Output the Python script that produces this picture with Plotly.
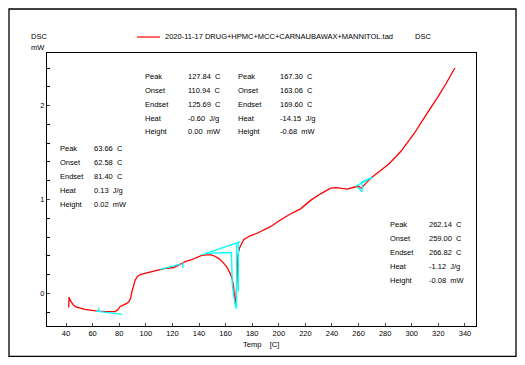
import plotly.graph_objects as go

# ---- measured DSC curve (Temp in C, DSC in mW) ----
temp = [42.0, 42.3, 43.0, 43.8, 45.5, 47.5, 50.5, 54.0, 58.0, 61.0, 64.3, 68.0, 72.0, 77.0,
        79.0, 80.7, 83.0, 85.7, 87.5, 88.6, 89.6, 90.7, 92.0, 93.7, 96.0, 100.0, 105.0,
        110.0, 114.0, 118.0, 121.0, 124.0, 127.0, 130.0, 134.0, 138.0, 142.0, 146.0,
        149.0, 152.0, 155.0, 158.0, 161.0, 163.5, 165.0, 166.0, 166.7, 167.3, 167.8,
        168.3, 168.8, 169.3, 170.0, 171.0, 173.6, 178.0, 183.7, 190.0, 193.7, 200.0,
        208.0, 216.4, 223.9, 231.4, 235.0, 239.0, 243.0, 246.5, 251.5, 256.5, 260.0,
        262.1, 263.2, 266.6, 270.3, 276.6, 283.0, 291.7, 301.7, 309.3, 315.0, 320.0,
        325.6, 332.4]
dsc = [-0.15, -0.04, -0.07, -0.09, -0.125, -0.145, -0.16, -0.17, -0.178, -0.185, -0.19,
       -0.193, -0.195, -0.195, -0.175, -0.14, -0.125, -0.107, -0.085, -0.05, 0.02, 0.07,
       0.14, 0.18, 0.20, 0.215, 0.235, 0.25, 0.262, 0.268, 0.275, 0.295, 0.32, 0.34, 0.355,
       0.38, 0.405, 0.41, 0.41, 0.395, 0.37, 0.33, 0.28, 0.21, 0.15, 0.07, -0.02, -0.117,
       -0.08, 0.10, 0.28, 0.40, 0.46, 0.50, 0.57, 0.61, 0.64, 0.68, 0.71, 0.77, 0.84, 0.90,
       0.99, 1.06, 1.09, 1.12, 1.125, 1.12, 1.11, 1.13, 1.14, 1.12, 1.14, 1.19, 1.24, 1.31,
       1.38, 1.51, 1.70, 1.87, 1.99, 2.10, 2.23, 2.40]

# ---- evaluation baselines / tangents (cyan), segments separated by None ----
eval_t = [62.6, 82.0, None, 64.6, 64.6, None,
          110.9, 126.0, None, 127.8, 127.8, None,
          142.0, 171.3, None, 144.4, 164.4, 165.0, 166.0, 167.8, None,
          168.2, 168.2, None, 169.6, 169.6, None,
          257.7, 270.2, None, 259.5, 262.6, 262.8, 268.0]
eval_v = [-0.19, -0.225, None, -0.15, -0.195, None,
          0.255, 0.31, None, 0.27, 0.33, None,
          0.41, 0.55, None, 0.425, 0.435, 0.10, -0.02, -0.16, None,
          -0.16, 0.53, None, 0.55, 0.02, None,
          1.14, 1.235, None, 1.13, 1.08, 1.19, 1.22]

# ---- peak evaluation tables ----
row_labels = ["Peak", "Onset", "Endset", "Heat", "Height"]
res_64 = ["63.66  C", "62.58  C", "81.40  C", "0.13  J/g", "0.02  mW"]
res_128 = ["127.84  C", "110.94  C", "125.69  C", "-0.60  J/g", "0.00  mW"]
res_167 = ["167.30  C", "163.06  C", "169.60  C", "-14.15  J/g", "-0.68  mW"]
res_262 = ["262.14  C", "259.00  C", "266.82  C", "-1.12  J/g", "-0.08  mW"]

x_ticks = list(range(40, 341, 20))
y_ticks = [0, 1, 2]
legend_name = "2020-11-17 DRUG+HPMC+MCC+CARNAUBAWAX+MANNITOL.tad"

FONT = "Liberation Sans, Arial, sans-serif"
FS = 7.5
OFF = 8  # page body margin
W, H = 525 - 2 * OFF, 365 - 2 * OFF
# plot area in page pixels
PL, PR, PT, PB = 47, 476, 53, 326
L, R, T, B = PL - OFF, PR - OFF, PT - OFF, PB - OFF


def px(xp):
    return (xp - PL) / (PR - PL)


def py(yp):
    return (PB - yp) / (PB - PT)


fig = go.Figure()
fig.add_trace(go.Scatter(x=temp, y=dsc, mode="lines",
                         line=dict(color="#ff0000", width=1.3), showlegend=False))
fig.add_trace(go.Scatter(x=eval_t, y=eval_v, mode="lines", connectgaps=False,
                         line=dict(color="#00ffff", width=1.3), showlegend=False))

ann = []


def txt(x, y, s, anchor="left"):
    ann.append(dict(x=px(x), y=py(y), xref="paper", yref="paper",
                    text=s.replace("  ", "\u00a0\u00a0"),
                    showarrow=False, xanchor=anchor, yanchor="middle",
                    font=dict(family=FONT, size=FS, color="black")))


def table(xl, xv, y0, vals):
    for i, (lab, v) in enumerate(zip(row_labels, vals)):
        txt(xl, y0 + 14 * i, lab)
        txt(xv, y0 + 14 * i, v)


table(143, 186, 76, res_128)
table(236, 278, 76, res_167)
table(58, 92, 148, res_64)
table(388, 427, 224, res_262)

txt(29, 37, "DSC")
txt(29, 47, "mW")
txt(413, 37, "DSC")
txt(163, 37, legend_name)
txt(260.5, 344, "Temp    [C]", anchor="center")

shapes = [
    dict(type="line", xref="paper", yref="paper", x0=px(137), x1=px(160), y0=py(37), y1=py(37),
         line=dict(color="#ff0000", width=1.2)),
    dict(type="rect", xref="paper", yref="paper", x0=px(9), x1=px(516), y0=py(356.5), y1=py(9),
         line=dict(color="black", width=1.3)),
]

fig.update_layout(
    width=W, height=H,
    margin=dict(l=L, r=W - R, t=T, b=H - B, pad=0),
    paper_bgcolor="white", plot_bgcolor="white",
    annotations=ann, shapes=shapes,
    font=dict(family=FONT, size=FS, color="black"),
)
fig.update_xaxes(range=[25.7, 348.3], tickvals=x_ticks, ticks="inside", ticklen=3,
                 showline=True, mirror=True, linecolor="black", linewidth=1.2,
                 showgrid=False, zeroline=False, tickfont=dict(family=FONT, size=FS))
fig.update_yaxes(range=[-0.348, 2.56], tickvals=y_ticks, ticks="inside", ticklen=3,
                 minor=dict(tickvals=[-0.2, 0.2, 0.4, 0.6, 0.8, 1.2, 1.4, 1.6, 1.8, 2.2, 2.4],
                            ticks="inside", ticklen=3, tickcolor="black"),
                 showline=True, mirror=True, linecolor="black", linewidth=1.2,
                 showgrid=False, zeroline=False, tickfont=dict(family=FONT, size=FS))

fig.write_html("out.html")
